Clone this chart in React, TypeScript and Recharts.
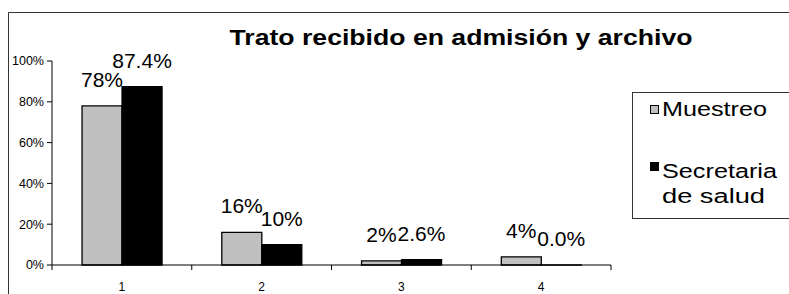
import React from "react";
import { BarChart, Bar, XAxis, YAxis } from "recharts";

const categories = ["1", "2", "3", "4"];
const muestreo = [78, 16, 2, 4];
const secretaria = [87.4, 10, 2.6, 0.0];
const muestreoLabels = ["78%", "16%", "2%", "4%"];
const secretariaLabels = ["87.4%", "10%", "2.6%", "0.0%"];
const yTicks = [0, 20, 40, 60, 80, 100];
const seriesNames = ["Muestreo", "Secretaria de salud"];
const title = "Trato recibido en admisión y archivo";

const data = categories.map((c, i) => ({
    cat: c,
    muestreo: muestreo[i],
    secretaria: secretaria[i],
}));

const W = 789;
const H = 294;
const PLOT_LEFT = 52;
const PLOT_RIGHT = 611;
const PLOT_TOP = 61;
const PLOT_BOTTOM = 265;
const BAND = (PLOT_RIGHT - PLOT_LEFT) / categories.length;
const FONT = '"Liberation Sans", Arial, sans-serif';

const XTick = (props: any) => {
    const { x, payload, index } = props;
    const half = BAND / 2;
    return (
        <g>
            <line x1={x - half} x2={x - half} y1={PLOT_BOTTOM} y2={PLOT_BOTTOM + 5} stroke="#000" />
            {index === categories.length - 1 && (
                <line x1={x + half} x2={x + half} y1={PLOT_BOTTOM} y2={PLOT_BOTTOM + 5} stroke="#000" />
            )}
            <text x={x} y={PLOT_BOTTOM + 26} textAnchor="middle" fontSize={12} fill="#000" fontFamily={FONT}>
                {payload.value}
            </text>
        </g>
    );
};

// label drawn 19px above the top of each bar, text taken from the label list
const makeLabel = (labels: string[]) => (props: any) => {
    const { x, y, width, height, index } = props;
    const top = Math.min(Number(y), Number(y) + Number(height || 0));
    return (
        <text
            key={`l-${index}`}
            x={Number(x) + Number(width) / 2}
            y={top - 19}
            textAnchor="middle"
            fontSize={21}
            fill="#000"
            fontFamily={FONT}
        >
            {labels[index]}
        </text>
    );
};

const legendText = { fontSize: 20, fill: "#000", lengthAdjust: "spacingAndGlyphs" as const };

export default function App() {
    return (
        <div
            style={{
                position: "absolute",
                left: 0,
                top: 0,
                width: W,
                height: H,
                overflow: "hidden",
                background: "#fff",
                fontFamily: FONT,
            }}
        >
            <svg width={W} height={H} style={{ position: "absolute", left: 0, top: 0 }}>
                {/* outer chart border */}
                <line x1={8.5} x2={W} y1={12.5} y2={12.5} stroke="#333" />
                <line x1={8.5} x2={8.5} y1={12.5} y2={H} stroke="#333" />
                <text
                    x={461}
                    y={45}
                    textAnchor="middle"
                    fontSize={22}
                    fontWeight="bold"
                    fill="#000"
                    textLength={463}
                    lengthAdjust="spacingAndGlyphs"
                >
                    {title}
                </text>
                {/* legend */}
                <rect x={632.5} y={92.5} width={200} height={126} fill="#fff" stroke="#333" />
                <rect x={650.5} y={105.5} width={8} height={8} fill="#c0c0c0" stroke="#000" />
                <text x={662} y={116} textLength={105} {...legendText}>
                    {seriesNames[0]}
                </text>
                <rect x={650} y={162} width={9} height={9} fill="#000" />
                <text x={662} y={178} textLength={115} {...legendText}>
                    {seriesNames[1].split(" ")[0]}
                </text>
                <text x={662} y={203} textLength={103} {...legendText}>
                    {seriesNames[1].split(" ").slice(1).join(" ")}
                </text>
            </svg>
            <div style={{ position: "absolute", left: 0, top: 0 }}>
                <BarChart
                    width={W}
                    height={H}
                    data={data}
                    margin={{ top: PLOT_TOP, right: W - PLOT_RIGHT, left: 8, bottom: 0 }}
                    barCategoryGap="21.5%"
                    barGap={0}
                >
                    <XAxis
                        dataKey="cat"
                        height={H - PLOT_BOTTOM}
                        axisLine={{ stroke: "#000" }}
                        tickLine={false}
                        tick={<XTick />}
                        interval={0}
                    />
                    <YAxis
                        width={PLOT_LEFT - 8}
                        domain={[0, 100]}
                        ticks={yTicks}
                        tickFormatter={(v: number) => `${v}%`}
                        axisLine={{ stroke: "#000" }}
                        tickLine={{ stroke: "#000" }}
                        tickSize={5}
                        tickMargin={3}
                        tick={{ fill: "#000", fontSize: 12.5, fontFamily: FONT }}
                    />
                    <Bar
                        dataKey="muestreo"
                        name={seriesNames[0]}
                        fill="#c0c0c0"
                        stroke="#000"
                        strokeWidth={1.3}
                        minPointSize={0.01}
                        isAnimationActive={false}
                        label={makeLabel(muestreoLabels)}
                    />
                    <Bar
                        dataKey="secretaria"
                        name={seriesNames[1]}
                        fill="#000"
                        stroke="#000"
                        strokeWidth={1.3}
                        minPointSize={0.01}
                        isAnimationActive={false}
                        label={makeLabel(secretariaLabels)}
                    />
                </BarChart>
            </div>
        </div>
    );
}
